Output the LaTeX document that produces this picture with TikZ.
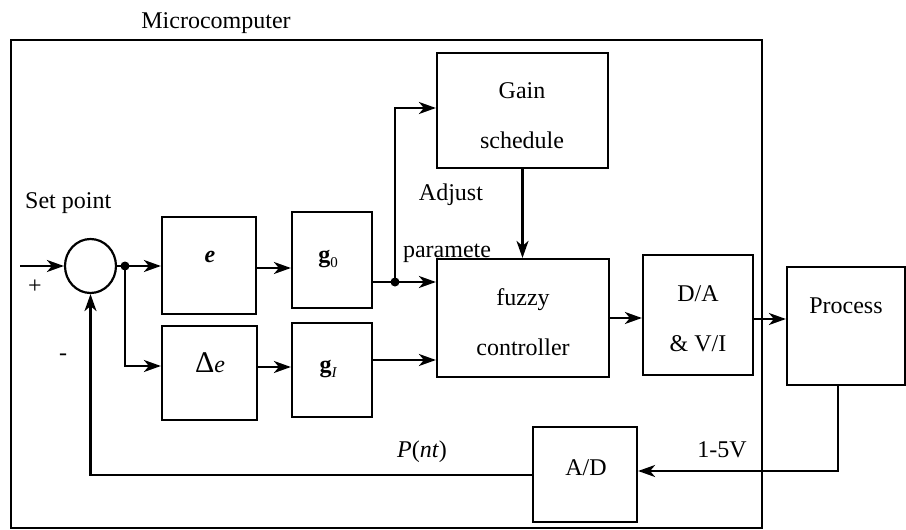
\documentclass[tikz,border=0pt]{standalone}
\usepackage{fontspec}
\setmainfont{Liberation Serif}
\usetikzlibrary{arrows.meta,shapes.geometric}
\tikzset{
  blk/.style={draw, rectangle, line width=2.2pt, inner sep=0pt},
  arr/.style={line width=2.2pt, -{Stealth[length=17pt,width=12pt,inset=5pt]}},
  wire/.style={line width=2.2pt},
  txt/.style={inner sep=0pt, anchor=base, font=\fontsize{24}{28}\selectfont},
  jdot/.style={fill, circle, inner sep=0pt, minimum size=9pt}
}
\begin{document}
\begin{tikzpicture}[x=1pt,y=-1pt]
\fill[white] (0,0) rectangle (906,530);
\useasboundingbox (0,0) rectangle (906,530);
% row coordinates
\coordinate (rIn) at (0,266);
\coordinate (rEG) at (0,268);
\coordinate (rDe) at (0,366);
\coordinate (rDG) at (0,367);
\coordinate (rG0) at (0,282);
\coordinate (rGain) at (0,108);
\coordinate (rGI) at (0,360);
\coordinate (rDP) at (0,319);
\coordinate (rV) at (0,471);
\coordinate (rFb) at (0,475);
\coordinate (cPb) at (838,0);
% outer box
\node[blk, minimum width=751pt, minimum height=488pt] (micro) at (386.5,284) {};
\node[txt] (microlbl) at (216,28) {Microcomputer};
% summing junction
\node[draw, ellipse, line width=2.2pt, inner sep=0pt, minimum width=51pt, minimum height=54pt] (sum) at (90.5,266) {};
\coordinate (in) at (20,266);
\node[jdot] (dot1) at (125,266) {};
% blocks
\node[blk, minimum width=94pt, minimum height=97pt] (e) at (209,265.5) {};
\node[blk, minimum width=80pt, minimum height=96pt] (g0) at (332,260) {};
\node[blk, minimum width=95pt, minimum height=94pt] (de) at (209.5,373) {};
\node[blk, minimum width=80pt, minimum height=94pt] (gI) at (332,370) {};
\node[blk, minimum width=171pt, minimum height=115pt] (gain) at (522.5,110.5) {};
\node[blk, minimum width=172pt, minimum height=118pt] (fuzzy) at (523,318) {};
\node[blk, minimum width=110pt, minimum height=120pt] (da) at (698,315) {};
\node[blk, minimum width=118pt, minimum height=118pt] (proc) at (846,326) {};
\node[blk, minimum width=104pt, minimum height=95pt] (ad) at (585,474.5) {};
\node[jdot] (dot2) at (395,282) {};
% labels
\node[txt, anchor=base west] (setpt) at (25,208) {Set point};
\node[txt, anchor=center] (plus) at (35,287) {+};
\node[txt, anchor=center] (minus) at (63,357) {-};
\node[txt] (elbl) at (210,262) {\textbf{\textit{e}}};
\node[txt] (g0lbl) at (328,262) {\textbf{g}\raisebox{-5pt}{\fontsize{15}{15}\selectfont 0}};
\node[txt] (delbl) at (210,372) {{\fontsize{30}{30}\selectfont Δ}\textit{e}};
\node[txt] (gIlbl) at (328,372) {\textbf{g}\raisebox{-5pt}{\fontsize{15}{15}\selectfont\itshape I}};
\node[txt] (adj1) at (451,200) {Adjust};
\node[txt] (adj2) at (447,257) {paramete};
\node[txt] (gain1) at (522,98) {Gain};
\node[txt] (gain2) at (522,148) {schedule};
\node[txt] (fz1) at (523,305) {fuzzy};
\node[txt] (fz2) at (523,355) {controller};
\node[txt] (da1) at (698,301) {D/A};
\node[txt] (da2) at (698,351) {\& V/I};
\node[txt] (proclbl) at (846,313) {Process};
\node[txt] (adlbl) at (586,475) {A/D};
\node[txt] (vlbl) at (722,457) {1-5V};
\node[txt] (pnt) at (422,457) {\textit{P}(\textit{nt})};
% connectors
\draw[arr] (in) -- (sum.west);
\draw[wire] (sum.east) -- (dot1.center);
\draw[arr] (dot1.center) -- (e.west |- rIn);
\draw[arr] (dot1.center) |- (de.west |- rDe);
\draw[arr] (e.east |- rEG) -- (g0.west |- rEG);
\draw[arr] (de.east |- rDG) -- (gI.west |- rDG);
\draw[arr] (g0.east |- rG0) -- (fuzzy.west |- rG0);
\draw[arr] (dot2.center) |- (gain.west |- rGain);
\draw[arr] (gI.east |- rGI) -- (fuzzy.west |- rGI);
\draw[arr] (gain.south) -- (gain.south |- fuzzy.north);
\draw[arr] (fuzzy.east) -- (fuzzy.east -| da.west);
\draw[arr] (da.east |- rDP) -- (proc.west |- rDP);
\draw[arr] (proc.south -| cPb) |- (ad.east |- rV);
\draw[arr] (ad.west |- rFb) -| (sum.south);
\end{tikzpicture}
\end{document}
